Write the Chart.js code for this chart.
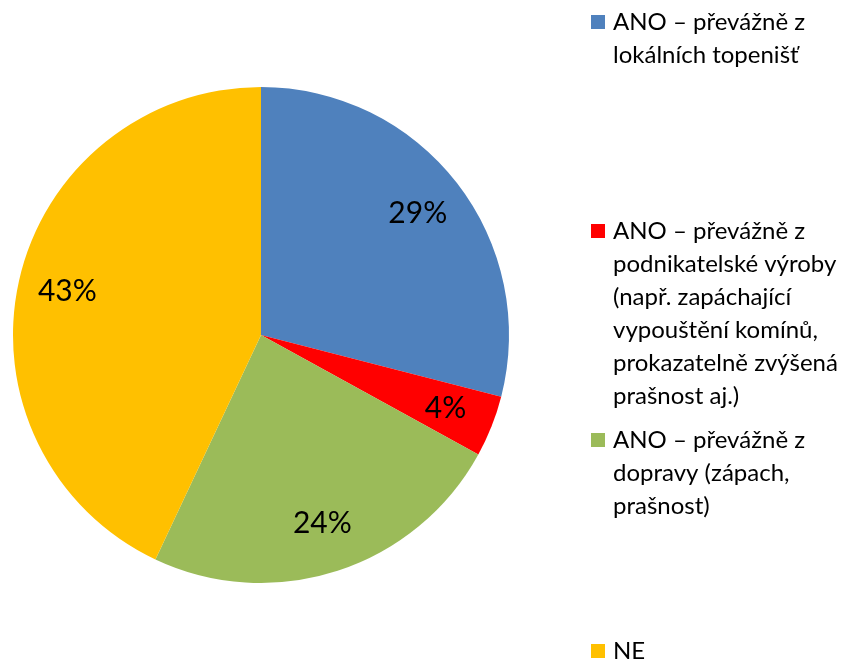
<!DOCTYPE html>
<html>
<head>
<meta charset="utf-8">
<script src="https://cdn.jsdelivr.net/npm/chart.js@4.4.1/dist/chart.umd.min.js"></script>
<style>
  html, body { margin: 0; padding: 0; background: #fff; }
  #wrap { width: 849px; height: 659px; position: relative; }
</style>
</head>
<body>
<div id="wrap"><canvas id="chart"></canvas></div>
<script>
// legend text, one entry per slice, already broken into lines
const categories = [
    ["ANO – převážně z", "lokálních topenišť"],
    ["ANO – převážně z", "podnikatelské výroby", "(např. zapáchající", "vypouštění komínů,", "prokazatelně zvýšená", "prašnost aj.)"],
    ["ANO – převážně z", "dopravy (zápach,", "prašnost)"],
    ["NE"]
];
const shares = [29, 4, 24, 43];
const sliceColors = ["#4F81BD", "#FF0000", "#9BBB59", "#FFC000"];
// vertical start of each legend entry (first line centre)
const legendTops = [22, 231, 440, 651];

const FONT = "Lato, 'Open Sans', sans-serif";

// percentage labels inside the slices
const sliceLabels = {
    id: "sliceLabels",
    afterDatasetsDraw(chart) {
        const ctx = chart.ctx;
        const meta = chart.getDatasetMeta(0);
        ctx.save();
        ctx.font = "30px " + FONT;
        ctx.fillStyle = "#000";
        ctx.textAlign = "center";
        ctx.textBaseline = "middle";
        meta.data.forEach((arc, i) => {
            const mid = (arc.startAngle + arc.endAngle) / 2;
            const r = arc.outerRadius * 0.8;
            const x = arc.x + Math.cos(mid) * r;
            const y = arc.y + Math.sin(mid) * r;
            ctx.fillText(shares[i] + "%", x, y);
        });
        ctx.restore();
    }
};

// legend on the right, with wrapped lines
const sideLegend = {
    id: "sideLegend",
    afterDraw(chart) {
        const ctx = chart.ctx;
        ctx.save();
        ctx.font = "24px " + FONT;
        ctx.textBaseline = "middle";
        ctx.textAlign = "left";
        categories.forEach((lines, i) => {
            const y0 = legendTops[i];
            ctx.fillStyle = sliceColors[i];
            ctx.fillRect(591, y0 - 7, 14, 14);
            ctx.fillStyle = "#000";
            lines.forEach((line, j) => {
                ctx.fillText(line, 613, y0 + j * 33);
            });
        });
        ctx.restore();
    }
};

new Chart(document.getElementById("chart"), {
    type: "pie",
    data: {
        labels: categories.map(l => l.join(" ")),
        datasets: [{
            data: shares,
            backgroundColor: sliceColors,
            borderWidth: 0
        }]
    },
    options: {
        responsive: true,
        maintainAspectRatio: false,
        animation: false,
        layout: {
            padding: { left: 13, right: 340, top: 87, bottom: 76 }
        },
        plugins: {
            legend: { display: false },
            tooltip: { enabled: false }
        }
    },
    plugins: [sliceLabels, sideLegend]
});
</script>
</body>
</html>
